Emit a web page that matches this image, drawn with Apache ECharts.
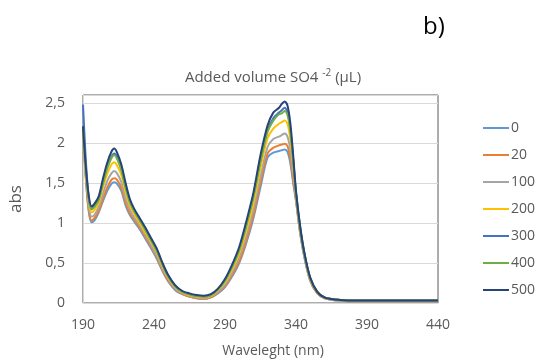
<!DOCTYPE html>
<html>
<head>
<meta charset="utf-8">
<script src="https://cdn.jsdelivr.net/npm/echarts@6/dist/echarts.min.js"></script>
<style>
  html, body { margin: 0; padding: 0; background: #fff; }
  #chart { width: 542px; height: 360px; }
</style>
</head>
<body>
<div id="chart"></div>
<script>
// Absorption spectra, one curve per added volume of sulfate (µL)
const wavelengths = [190, 192, 194, 196, 198, 201, 204, 207, 210, 212, 214, 217, 220, 223, 226, 230, 234, 238, 242, 246, 250, 255, 260, 265, 270, 275, 280, 285, 290, 295, 300, 305, 310, 315, 320, 324, 328, 330, 332, 334, 336, 338, 340, 343, 346, 350, 355, 360, 365, 370, 380, 390, 400, 420, 440];

const volumes = ['0', '20', '100', '200', '300', '400', '500'];

const abs0 = [2.20, 1.55, 1.15, 1.01, 1.03, 1.13, 1.27, 1.40, 1.49, 1.51, 1.49, 1.40, 1.22, 1.10, 1.02, 0.92, 0.80, 0.68, 0.55, 0.40, 0.27, 0.16, 0.11, 0.08, 0.06, 0.05, 0.07, 0.12, 0.20, 0.33, 0.50, 0.75, 1.06, 1.45, 1.82, 1.88, 1.90, 1.91, 1.92, 1.89, 1.75, 1.50, 1.27, 0.86, 0.56, 0.28, 0.12, 0.06, 0.04, 0.03, 0.02, 0.02, 0.02, 0.02, 0.02];
const abs20 = [2.18, 1.57, 1.17, 1.03, 1.06, 1.15, 1.30, 1.44, 1.54, 1.56, 1.54, 1.44, 1.25, 1.12, 1.04, 0.94, 0.82, 0.70, 0.57, 0.41, 0.28, 0.17, 0.11, 0.08, 0.06, 0.05, 0.07, 0.13, 0.21, 0.35, 0.52, 0.78, 1.10, 1.50, 1.87, 1.94, 1.97, 1.98, 1.99, 1.96, 1.81, 1.54, 1.29, 0.87, 0.57, 0.28, 0.12, 0.06, 0.04, 0.03, 0.02, 0.02, 0.02, 0.02, 0.02];
const abs100 = [2.17, 1.60, 1.22, 1.08, 1.10, 1.20, 1.36, 1.52, 1.62, 1.65, 1.62, 1.51, 1.31, 1.17, 1.07, 0.97, 0.85, 0.72, 0.59, 0.43, 0.30, 0.18, 0.12, 0.09, 0.07, 0.06, 0.08, 0.14, 0.23, 0.38, 0.57, 0.84, 1.17, 1.58, 1.95, 2.05, 2.08, 2.10, 2.12, 2.08, 1.92, 1.62, 1.31, 0.89, 0.58, 0.29, 0.13, 0.06, 0.04, 0.03, 0.02, 0.02, 0.02, 0.02, 0.02];
const abs200 = [2.18, 1.64, 1.27, 1.13, 1.16, 1.25, 1.44, 1.61, 1.73, 1.76, 1.72, 1.60, 1.39, 1.22, 1.12, 1.00, 0.88, 0.76, 0.63, 0.46, 0.32, 0.20, 0.13, 0.10, 0.08, 0.07, 0.09, 0.16, 0.26, 0.42, 0.62, 0.91, 1.25, 1.69, 2.06, 2.18, 2.24, 2.26, 2.28, 2.24, 2.05, 1.71, 1.35, 0.91, 0.60, 0.30, 0.13, 0.07, 0.05, 0.04, 0.03, 0.03, 0.03, 0.03, 0.03];
const abs300 = [2.48, 1.78, 1.32, 1.18, 1.21, 1.30, 1.51, 1.70, 1.83, 1.87, 1.83, 1.68, 1.46, 1.27, 1.16, 1.04, 0.92, 0.79, 0.66, 0.49, 0.34, 0.21, 0.14, 0.11, 0.09, 0.08, 0.10, 0.17, 0.29, 0.46, 0.67, 0.98, 1.34, 1.79, 2.16, 2.31, 2.38, 2.41, 2.44, 2.39, 2.18, 1.80, 1.38, 0.94, 0.61, 0.31, 0.14, 0.07, 0.05, 0.04, 0.03, 0.03, 0.03, 0.03, 0.03];
const abs400 = [2.19, 1.67, 1.31, 1.17, 1.20, 1.29, 1.49, 1.68, 1.81, 1.85, 1.80, 1.66, 1.44, 1.26, 1.15, 1.03, 0.91, 0.78, 0.65, 0.48, 0.33, 0.21, 0.14, 0.11, 0.09, 0.08, 0.10, 0.17, 0.28, 0.45, 0.66, 0.97, 1.32, 1.77, 2.14, 2.28, 2.36, 2.37, 2.40, 2.35, 2.15, 1.78, 1.37, 0.93, 0.61, 0.31, 0.14, 0.07, 0.05, 0.04, 0.03, 0.03, 0.03, 0.03, 0.03];
const abs500 = [2.21, 1.70, 1.35, 1.21, 1.24, 1.33, 1.55, 1.75, 1.89, 1.93, 1.88, 1.73, 1.50, 1.30, 1.18, 1.06, 0.94, 0.81, 0.68, 0.50, 0.35, 0.22, 0.15, 0.12, 0.10, 0.09, 0.11, 0.18, 0.30, 0.48, 0.70, 1.02, 1.38, 1.85, 2.22, 2.38, 2.44, 2.49, 2.52, 2.47, 2.25, 1.85, 1.40, 0.95, 0.62, 0.32, 0.14, 0.07, 0.05, 0.04, 0.03, 0.03, 0.03, 0.03, 0.03];

const xTicks = [190, 240, 290, 340, 390, 440];
const yTicks = [0, 0.5, 1, 1.5, 2, 2.5];

const seriesValues = [abs0, abs20, abs100, abs200, abs300, abs400, abs500];
const colors = ['#5B9BD5', '#ED7D31', '#A5A5A5', '#FFC000', '#4472C4', '#70AD47', '#264478'];

const textColor = '#595959';
const fontFamily = '"Open Sans", "Noto Sans", sans-serif';

const chart = echarts.init(document.getElementById('chart'), null, { renderer: 'canvas' });

chart.setOption({
  animation: false,
  color: colors,
  textStyle: { fontFamily: fontFamily },
  title: [
    {
      text: '{t|Added volume SO4 }{s|-2}{t| (µL)}',
      left: 268, top: 63, textAlign: 'center',
      textStyle: {
        fontWeight: 'normal',
        rich: {
          t: { fontSize: 15, fontWeight: 'normal', color: textColor, fontFamily: fontFamily },
          s: { fontSize: 10, fontWeight: 'normal', color: textColor, fontFamily: fontFamily, verticalAlign: 'top', padding: [0, 0, 9, 0] }
        }
      }
    },
    {
      text: 'Waveleght (nm)',
      left: 268, top: 339, textAlign: 'center',
      textStyle: { fontSize: 14, fontWeight: 'normal', color: textColor, fontFamily: fontFamily }
    },
    {
      text: 'b)',
      left: 418, top: 10,
      textStyle: { fontSize: 24, fontWeight: 'normal', color: '#000', fontFamily: fontFamily }
    }
  ],
  legend: {
    orient: 'vertical',
    left: 478, top: 116,
    itemWidth: 26, itemHeight: 14, itemGap: 13,
    icon: 'path://M0,6 L26,6 L26,8 L0,8 Z',
    textStyle: { fontSize: 14, color: textColor, padding: [0, 0, 0, -3] },
    data: volumes
  },
  grid: {
    left: 80, right: 104, top: 95, bottom: 57,
    show: true, borderColor: '#5a5a5a', borderWidth: 1, backgroundColor: 'transparent'
  },
  xAxis: {
    type: 'value',
    min: 190, max: 440,
    axisLine: { show: true, lineStyle: { color: '#d9d9d9', width: 1 } },
    axisTick: { show: false },
    splitLine: { show: false },
    axisLabel: { customValues: xTicks, color: textColor, fontSize: 14, margin: 15 }
  },
  yAxis: {
    type: 'value',
    min: 0, max: 2.6, interval: 0.5,
    name: 'abs', nameLocation: 'middle', nameGap: 58, nameRotate: 90,
    nameTextStyle: { fontSize: 17, color: textColor },
    axisLine: { show: true, lineStyle: { color: '#d9d9d9', width: 1 } },
    axisTick: { show: false },
    splitLine: { show: true, lineStyle: { color: '#d9d9d9', width: 1 } },
    axisLabel: {
      showMaxLabel: false, color: textColor, fontSize: 14, margin: 18,
      formatter: function (v) { return yTicks.indexOf(v) >= 0 ? String(v).replace('.', ',') : ''; }
    }
  },
  series: volumes.map(function (name, i) {
    return {
      name: name,
      type: 'line',
      symbol: 'none',
      smooth: 0.3,
      lineStyle: { width: 2, color: colors[i] },
      data: wavelengths.map(function (w, j) { return [w, seriesValues[i][j]]; })
    };
  })
});
</script>
</body>
</html>
